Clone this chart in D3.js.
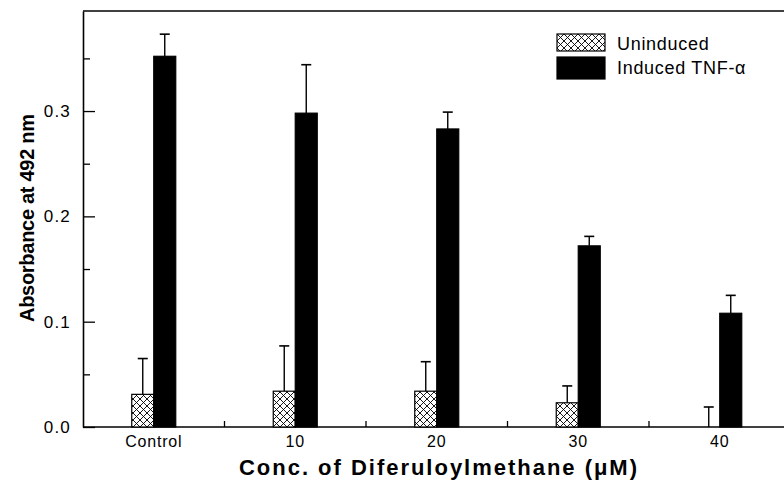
<!DOCTYPE html>
<html>
<head>
<meta charset="utf-8">
<script src="https://cdn.jsdelivr.net/npm/d3@7"></script>
<style>
  body { margin: 0; background: #fff; }
  svg { display: block; font-family: "Liberation Sans", Arial, sans-serif; }
</style>
</head>
<body>
<div id="chart"></div>
<script>
// data
const categories = ["Control", "10", "20", "30", "40"];
const seriesNames = ["Uninduced", "Induced TNF-\u03b1"];
const uninduced = [0.031, 0.034, 0.034, 0.023, 0.0];
const uninducedErr = [0.034, 0.043, 0.028, 0.016, 0.019];
const induced = [0.352, 0.298, 0.283, 0.172, 0.108];
const inducedErr = [0.021, 0.046, 0.016, 0.009, 0.017];
const majorTicks = [0.0, 0.1, 0.2, 0.3];
const minorTicks = [0.05, 0.15, 0.25, 0.35];

const width = 784, height = 495;
const plotLeft = 83, plotTop = 11, plotBottom = 427;
const groupW = 141.5;

const svg = d3.select("#chart").append("svg")
  .attr("width", width).attr("height", height);

// crosshatch pattern
const pat = svg.append("defs").append("pattern")
  .attr("id", "hatch").attr("patternUnits", "userSpaceOnUse")
  .attr("width", 7).attr("height", 7);
pat.append("rect").attr("width", 7).attr("height", 7).attr("fill", "#fff");
pat.append("path").attr("d", "M0,0L7,7M7,0L0,7")
  .attr("stroke", "#000").attr("stroke-width", 0.9);

// scales
const x = d3.scaleBand()
  .domain(categories)
  .range([plotLeft, plotLeft + groupW * categories.length])
  .paddingInner(0).paddingOuter(0);
const xSub = d3.scaleBand().domain([0, 1]).range([-22, 22]);
const y = d3.scaleLinear().domain([0, 0.395]).range([plotBottom, plotTop]);

// frame: top line + left axis
svg.append("line").attr("x1", plotLeft).attr("x2", width).attr("y1", plotTop).attr("y2", plotTop)
  .attr("stroke", "#000").attr("stroke-width", 1.6);

const yAxis = svg.append("g").attr("transform", `translate(${plotLeft},0)`)
  .call(d3.axisLeft(y).tickValues(majorTicks).tickFormat(d3.format(".1f"))
    .tickSizeInner(-12).tickSizeOuter(0).tickPadding(12));
yAxis.select(".domain").attr("stroke-width", 1.6);
yAxis.selectAll(".tick line").attr("stroke-width", 1.3);
yAxis.selectAll("text").attr("font-size", 17).attr("letter-spacing", 1.2).attr("fill", "#000")
  .attr("font-family", "Liberation Sans, Arial, sans-serif");

const yMinor = svg.append("g").attr("transform", `translate(${plotLeft},0)`)
  .call(d3.axisLeft(y).tickValues(minorTicks).tickFormat("").tickSizeInner(-7).tickSizeOuter(0));
yMinor.select(".domain").remove();
yMinor.selectAll(".tick line").attr("stroke-width", 1.3);

// bottom axis
const xAxis = svg.append("g").attr("transform", `translate(0,${plotBottom})`)
  .call(d3.axisBottom(x).tickSize(0).tickPadding(9));
xAxis.select(".domain").remove();
xAxis.selectAll("text").attr("font-size", 16).attr("letter-spacing", 0.8).attr("fill", "#000")
  .attr("font-family", "Liberation Sans, Arial, sans-serif");
svg.append("line").attr("x1", plotLeft).attr("x2", width).attr("y1", plotBottom).attr("y2", plotBottom)
  .attr("stroke", "#000").attr("stroke-width", 1.6);
svg.selectAll(".sep").data(categories.slice(1)).enter().append("line")
  .attr("class", "sep")
  .attr("x1", (d) => x(d)).attr("x2", (d) => x(d))
  .attr("y1", plotBottom).attr("y2", plotBottom - 6)
  .attr("stroke", "#000").attr("stroke-width", 1.3);

// bars
const series = [
  { vals: uninduced, errs: uninducedErr, fill: "url(#hatch)" },
  { vals: induced, errs: inducedErr, fill: "#000" },
];
series.forEach((s, si) => {
  const g = svg.append("g");
  const rows = s.vals.map((v, i) => ({ v: v, e: s.errs[i], cat: categories[i] }));
  const bx = (d) => x(d.cat) + x.bandwidth() / 2 + xSub(si);
  const cx = (d) => bx(d) + xSub.bandwidth() / 2;
  // error bars (upper only)
  g.selectAll(".err").data(rows).enter().append("line")
    .attr("x1", cx).attr("x2", cx)
    .attr("y1", (d) => y(d.v)).attr("y2", (d) => y(d.v + d.e))
    .attr("stroke", "#000").attr("stroke-width", 1.4);
  g.selectAll(".cap").data(rows).enter().append("line")
    .attr("x1", (d) => cx(d) - 5).attr("x2", (d) => cx(d) + 5)
    .attr("y1", (d) => y(d.v + d.e)).attr("y2", (d) => y(d.v + d.e))
    .attr("stroke", "#000").attr("stroke-width", 1.6);
  g.selectAll("rect").data(rows.filter((d) => d.v > 0)).enter().append("rect")
    .attr("x", bx)
    .attr("width", xSub.bandwidth())
    .attr("y", (d) => y(d.v))
    .attr("height", (d) => plotBottom - y(d.v))
    .attr("fill", s.fill)
    .attr("stroke", "#000").attr("stroke-width", 1.2);
});

// legend
const leg = svg.append("g").attr("transform", "translate(557,34)");
const legBoxes = [{ y: 0, h: 17 }, { y: 23, h: 22 }];
seriesNames.forEach((name, i) => {
  leg.append("rect").attr("x", 0).attr("y", legBoxes[i].y).attr("width", 48).attr("height", legBoxes[i].h)
    .attr("fill", series[i].fill).attr("stroke", "#000").attr("stroke-width", 1.2);
  leg.append("text").attr("x", 60).attr("y", i * 24 + 16)
    .attr("font-size", 18).attr("letter-spacing", 0.7).attr("fill", "#000").text(name);
});

// axis titles
svg.append("text")
  .attr("x", 438).attr("y", 475)
  .attr("text-anchor", "middle").attr("font-size", 22).attr("font-weight", "bold")
  .attr("textLength", 398).attr("lengthAdjust", "spacing")
  .text("Conc. of Diferuloylmethane (\u03bcM)");
svg.append("text")
  .attr("transform", "translate(34,218) rotate(-90)")
  .attr("text-anchor", "middle").attr("font-size", 20).attr("font-weight", "bold")
  .attr("textLength", 208).attr("lengthAdjust", "spacing")
  .text("Absorbance at 492 nm");
</script>
</body>
</html>
